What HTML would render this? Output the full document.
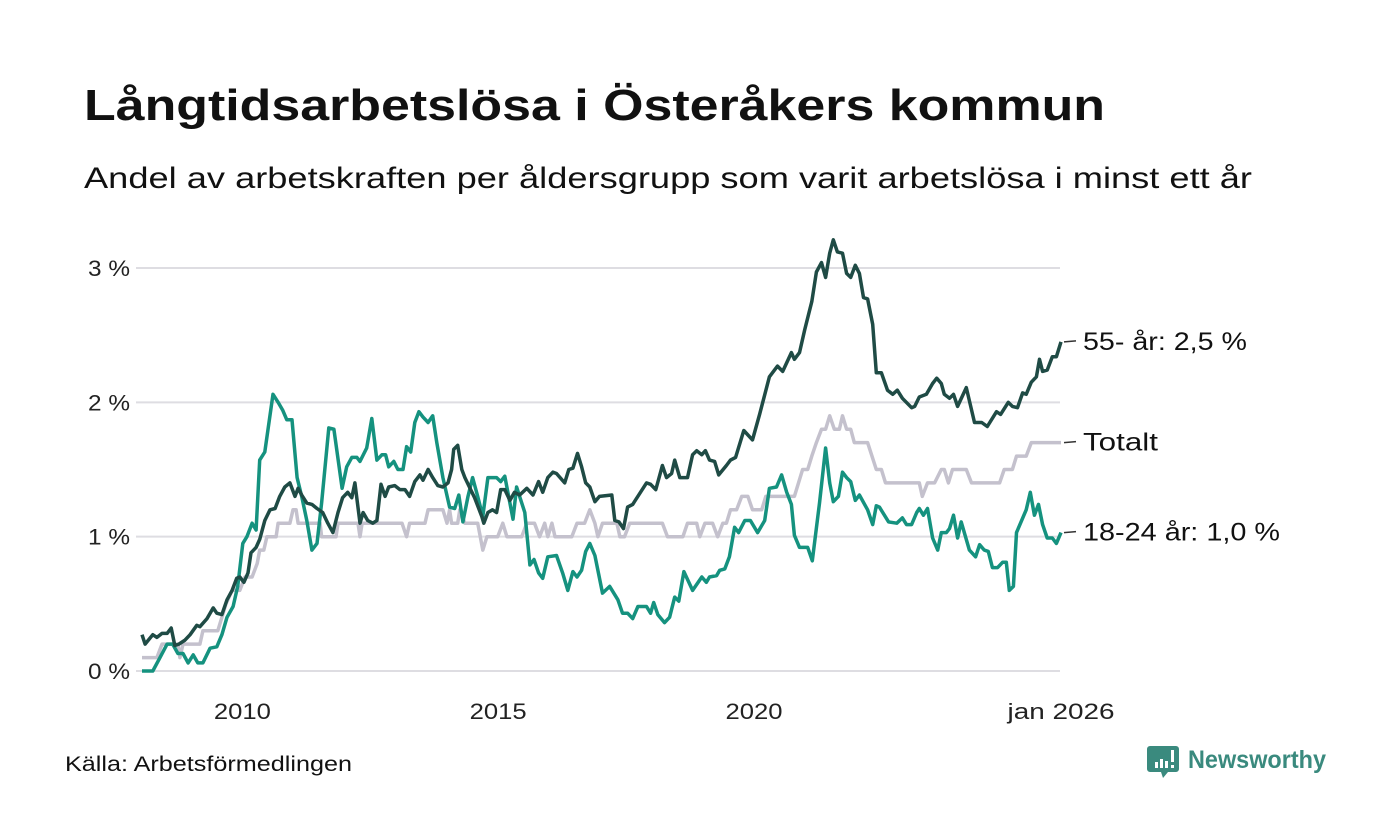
<!DOCTYPE html>
<html><head><meta charset="utf-8"><style>
html,body{margin:0;padding:0;background:#fff;}
svg{display:block;font-family:"Liberation Sans",sans-serif;}
</style></head><body>
<svg id="chart" width="1400" height="840" viewBox="0 0 1400 840">
<text x="84" y="120" font-size="44" font-weight="bold" fill="#111" textLength="1021" lengthAdjust="spacingAndGlyphs">Långtidsarbetslösa i Österåkers kommun</text>
<text x="84" y="188" font-size="30" fill="#111" textLength="1168" lengthAdjust="spacingAndGlyphs">Andel av arbetskraften per åldersgrupp som varit arbetslösa i minst ett år</text>
<g id="grid"></g>
<g id="yticks"></g>
<g id="xticks"></g>
<g id="series"></g>
<g id="labels"></g>
<text x="65" y="771" font-size="21" fill="#111" textLength="287" lengthAdjust="spacingAndGlyphs">Källa: Arbetsförmedlingen</text>
<g>
<path d="M1150 746 h26 a3 3 0 0 1 3 3 v20 a3 3 0 0 1 -3 3 h-8 l-5 6 l-2 -6 h-11 a3 3 0 0 1 -3 -3 v-20 a3 3 0 0 1 3 -3z" fill="#3a8a7e"/>
<rect x="1155" y="762" width="3" height="6" fill="#fff"/><rect x="1160" y="759" width="3" height="9" fill="#fff"/><rect x="1165" y="761" width="3" height="7" fill="#fff"/><rect x="1171" y="750" width="3" height="12" fill="#fff"/><rect x="1171" y="765" width="3" height="3" fill="#fff"/>
<text x="1188" y="768" font-size="25" font-weight="bold" fill="#3a8a7e" textLength="138" lengthAdjust="spacingAndGlyphs">Newsworthy</text>
</g>
</svg>
<script>
// time = years since jan 2008
const yTickValues = [0, 1, 2, 3];
const yTickLabels = ["0 %", "1 %", "2 %", "3 %"];
const xTickValues = [2, 7, 12, 18];
const xTickLabels = ["2010", "2015", "2020", "jan 2026"];

const darkT = [0.04,0.10,0.25,0.33,0.43,0.53,0.61,0.68,0.76,0.88,0.98,1.11,1.17,1.31,1.43,1.50,1.60,1.70,1.80,1.89,1.95,2.03,2.11,2.17,2.27,2.34,2.44,2.54,2.64,2.73,2.83,2.93,3.03,3.09,3.16,3.26,3.36,3.46,3.57,3.67,3.77,3.87,3.96,4.06,4.14,4.20,4.30,4.36,4.45,4.55,4.63,4.71,4.79,4.86,4.98,5.08,5.18,5.27,5.37,5.47,5.53,5.63,5.72,5.82,5.92,6.02,6.09,6.13,6.21,6.29,6.35,6.45,6.54,6.68,6.72,6.80,6.89,6.97,7.05,7.13,7.23,7.32,7.42,7.56,7.68,7.79,7.87,7.97,8.07,8.14,8.30,8.38,8.46,8.55,8.63,8.71,8.79,8.89,8.98,9.22,9.28,9.36,9.45,9.53,9.63,9.90,9.98,10.08,10.21,10.29,10.39,10.45,10.55,10.70,10.80,10.88,10.98,11.05,11.13,11.23,11.31,11.46,11.54,11.64,11.80,11.97,12.11,12.30,12.46,12.56,12.73,12.79,12.89,12.99,13.13,13.22,13.32,13.40,13.48,13.55,13.63,13.73,13.81,13.89,13.98,14.06,14.14,14.22,14.32,14.39,14.49,14.61,14.71,14.80,14.90,15.08,15.14,15.23,15.37,15.49,15.57,15.66,15.72,15.82,15.90,15.98,16.15,16.31,16.45,16.56,16.74,16.82,16.97,17.05,17.15,17.25,17.32,17.42,17.52,17.58,17.64,17.73,17.83,17.91,18.0];
const darkV = [0.27,0.20,0.27,0.25,0.28,0.28,0.32,0.19,0.20,0.23,0.27,0.34,0.33,0.39,0.47,0.43,0.42,0.53,0.60,0.69,0.70,0.66,0.73,0.88,0.92,0.98,1.12,1.20,1.21,1.30,1.37,1.40,1.30,1.36,1.31,1.25,1.24,1.21,1.18,1.10,1.03,1.18,1.29,1.33,1.29,1.40,1.10,1.18,1.12,1.10,1.12,1.39,1.30,1.37,1.38,1.35,1.35,1.30,1.41,1.46,1.42,1.50,1.44,1.38,1.37,1.40,1.50,1.65,1.68,1.50,1.44,1.36,1.29,1.15,1.10,1.18,1.20,1.18,1.35,1.35,1.27,1.33,1.31,1.36,1.31,1.41,1.33,1.44,1.48,1.47,1.40,1.50,1.51,1.62,1.52,1.40,1.37,1.26,1.30,1.31,1.12,1.11,1.06,1.22,1.24,1.40,1.39,1.35,1.53,1.44,1.47,1.57,1.44,1.44,1.61,1.64,1.61,1.64,1.57,1.56,1.46,1.53,1.57,1.59,1.79,1.72,1.91,2.19,2.27,2.23,2.37,2.32,2.37,2.54,2.75,2.97,3.04,2.93,3.11,3.21,3.12,3.11,2.96,2.93,3.02,2.96,2.78,2.77,2.58,2.22,2.22,2.09,2.06,2.09,2.03,1.96,1.97,2.04,2.06,2.14,2.18,2.14,2.06,2.03,2.06,1.97,2.11,1.85,1.85,1.82,1.93,1.91,2.00,1.97,1.96,2.07,2.06,2.15,2.19,2.32,2.23,2.24,2.34,2.34,2.45];

const tealT = [0.04,0.25,0.39,0.53,0.64,0.74,0.84,0.94,1.04,1.13,1.23,1.37,1.50,1.60,1.70,1.82,1.91,2.01,2.09,2.19,2.27,2.34,2.44,2.60,2.70,2.79,2.87,2.97,3.07,3.16,3.26,3.36,3.46,3.55,3.69,3.79,3.95,4.04,4.14,4.24,4.30,4.43,4.53,4.63,4.73,4.80,4.86,4.96,5.04,5.14,5.21,5.29,5.37,5.45,5.53,5.63,5.72,5.80,5.92,6.05,6.15,6.23,6.31,6.41,6.50,6.60,6.70,6.80,6.97,7.05,7.13,7.29,7.36,7.52,7.62,7.70,7.79,7.87,7.97,8.14,8.26,8.36,8.46,8.54,8.63,8.71,8.79,8.89,9.04,9.18,9.34,9.43,9.53,9.63,9.73,9.90,9.98,10.04,10.12,10.25,10.35,10.45,10.53,10.63,10.80,10.98,11.07,11.13,11.27,11.33,11.43,11.52,11.62,11.70,11.82,11.93,12.07,12.21,12.30,12.44,12.54,12.64,12.73,12.79,12.89,13.05,13.14,13.28,13.40,13.48,13.55,13.65,13.73,13.81,13.89,13.98,14.06,14.22,14.32,14.39,14.45,14.63,14.79,14.90,14.98,15.08,15.18,15.23,15.31,15.39,15.49,15.59,15.66,15.76,15.82,15.90,15.98,16.05,16.21,16.33,16.41,16.50,16.58,16.66,16.76,16.86,16.93,16.99,17.07,17.13,17.32,17.40,17.48,17.56,17.64,17.73,17.83,17.91,18.0];
const tealV = [0,0,0.10,0.20,0.20,0.13,0.13,0.06,0.12,0.06,0.06,0.17,0.18,0.27,0.40,0.48,0.63,0.95,1.00,1.10,1.05,1.57,1.63,2.06,2.00,1.94,1.87,1.87,1.44,1.30,1.12,0.90,0.95,1.25,1.81,1.80,1.36,1.52,1.59,1.59,1.56,1.66,1.88,1.57,1.61,1.61,1.52,1.56,1.50,1.50,1.67,1.63,1.85,1.93,1.89,1.85,1.90,1.70,1.44,1.22,1.21,1.31,1.11,1.30,1.44,1.30,1.15,1.44,1.44,1.41,1.45,1.13,1.37,1.18,0.79,0.83,0.73,0.69,0.85,0.86,0.73,0.60,0.74,0.70,0.75,0.89,0.95,0.86,0.58,0.63,0.53,0.43,0.43,0.39,0.48,0.48,0.43,0.51,0.42,0.36,0.40,0.55,0.52,0.74,0.60,0.70,0.66,0.70,0.71,0.75,0.76,0.85,1.07,1.03,1.12,1.12,1.03,1.12,1.36,1.37,1.46,1.33,1.24,1.01,0.92,0.92,0.82,1.25,1.66,1.40,1.26,1.30,1.48,1.44,1.41,1.27,1.31,1.20,1.09,1.23,1.22,1.11,1.10,1.14,1.09,1.09,1.18,1.21,1.16,1.21,0.99,0.90,1.03,1.03,1.06,1.16,0.99,1.11,0.90,0.85,0.94,0.90,0.89,0.77,0.77,0.81,0.81,0.60,0.63,1.03,1.20,1.33,1.16,1.24,1.09,0.99,0.99,0.95,1.03];

const totalT = [0.04,0.33,0.43,0.74,0.78,0.84,1.17,1.23,1.52,1.60,1.68,1.80,1.95,2.05,2.19,2.29,2.34,2.42,2.48,2.66,2.70,2.93,2.99,3.05,3.09,3.52,3.55,3.83,3.87,4.26,4.30,4.34,5.12,5.21,5.27,5.57,5.63,5.92,6.00,6.05,6.09,6.21,6.25,6.35,6.60,6.70,6.78,6.99,7.09,7.17,7.46,7.56,7.71,7.81,7.91,7.97,8.05,8.11,8.44,8.54,8.69,8.79,8.89,8.95,9.04,9.32,9.38,9.47,9.57,10.21,10.31,10.61,10.70,10.88,10.94,11.04,11.19,11.29,11.39,11.46,11.54,11.66,11.76,11.88,11.97,12.15,12.23,12.79,12.95,13.05,13.13,13.22,13.32,13.40,13.48,13.57,13.67,13.73,13.81,13.89,13.96,14.22,14.39,14.49,14.57,15.23,15.29,15.39,15.53,15.66,15.72,15.80,15.88,16.15,16.25,16.80,16.89,17.05,17.13,17.32,17.42,18.0];
const totalV = [0.1,0.1,0.2,0.2,0.1,0.2,0.2,0.3,0.3,0.4,0.5,0.6,0.6,0.7,0.7,0.8,0.9,0.9,1.0,1.0,1.1,1.1,1.2,1.2,1.1,1.1,1.0,1.0,1.1,1.1,1.0,1.1,1.1,1.0,1.1,1.1,1.2,1.2,1.1,1.2,1.1,1.1,1.2,1.1,1.1,0.9,1.0,1.0,1.1,1.0,1.0,1.1,1.1,1.0,1.1,1.0,1.1,1.0,1.0,1.1,1.1,1.2,1.1,1.0,1.1,1.1,1.0,1.0,1.1,1.1,1.0,1.0,1.1,1.1,1.0,1.1,1.1,1.0,1.1,1.1,1.2,1.2,1.3,1.3,1.2,1.2,1.3,1.3,1.5,1.5,1.6,1.7,1.8,1.8,1.9,1.8,1.8,1.9,1.8,1.8,1.7,1.7,1.5,1.5,1.4,1.4,1.3,1.4,1.4,1.5,1.5,1.4,1.5,1.5,1.4,1.4,1.5,1.5,1.6,1.6,1.7,1.7];

const seriesNames = ["Totalt", "18-24 år", "55- år"];
const endLabels = ["Totalt", "18-24 år: 1,0 %", "55- år: 2,5 %"];
const endLabelWidths = [75, 197, 164];
const xLabelWidths = [57, 57, 57, 107];

const NS = "http://www.w3.org/2000/svg";
const X0 = 140, X1 = 1061, Y0 = 671, Y3 = 268;
function xScale(t){ return X0 + (X1 - X0) * t / 18; }
function yScale(v){ return Y0 + (Y3 - Y0) * v / 3; }
function mk(tag, attrs, parent){ const e = document.createElementNS(NS, tag); for (const k in attrs) e.setAttribute(k, attrs[k]); parent.appendChild(e); return e; }

const grid = document.getElementById('grid'), yt = document.getElementById('yticks');
yTickValues.forEach((v,i)=>{
  const l = mk('line',{x1:136,x2:1060,y1:yScale(v),y2:yScale(v),stroke:'#dedde2','stroke-width':2},grid);
  
  
  const t = mk('text',{x:130,y:yScale(v)+8,'font-size':22,fill:'#222','text-anchor':'end',textLength:42,lengthAdjust:'spacingAndGlyphs'},yt);
  
  
  t.textContent = yTickLabels[i];
});
const xt = document.getElementById('xticks');
xTickValues.forEach((v,i)=>{
  const t = mk('text',{x:xScale(v)-xLabelWidths[i]/2,y:719,'font-size':22,fill:'#222',textLength:xLabelWidths[i],lengthAdjust:'spacingAndGlyphs'},xt);
  
  
  t.textContent = xTickLabels[i];
});

const sg = document.getElementById('series');
const defs = [[totalT,totalV,'#c4c1cd'],[tealT,tealV,'#15927f'],[darkT,darkV,'#1f4b45']];
defs.forEach((d,i)=>{
  const pts = d[0].map((t,j)=>xScale(t).toFixed(1)+','+yScale(d[1][j]).toFixed(1)).join(' ');
  const p = mk('polyline',{points:pts,fill:'none',stroke:d[2],'stroke-width':3.5,'stroke-linejoin':'round'},sg);
  
  
});

const lg = document.getElementById('labels');
defs.forEach((d,i)=>{
  const lastV = d[1][d[1].length-1];
  const y = yScale(lastV);
  const l = mk('line',{x1:1064,x2:1076,y1:y,y2:y-1,stroke:'#333','stroke-width':1.5},lg);
  
  
  const t = mk('text',{x:1083,y:y+8,'font-size':25,fill:'#111',textLength:endLabelWidths[i],lengthAdjust:'spacingAndGlyphs'},lg);
  
  
  t.textContent = endLabels[i];
});
</script>
</body></html>
